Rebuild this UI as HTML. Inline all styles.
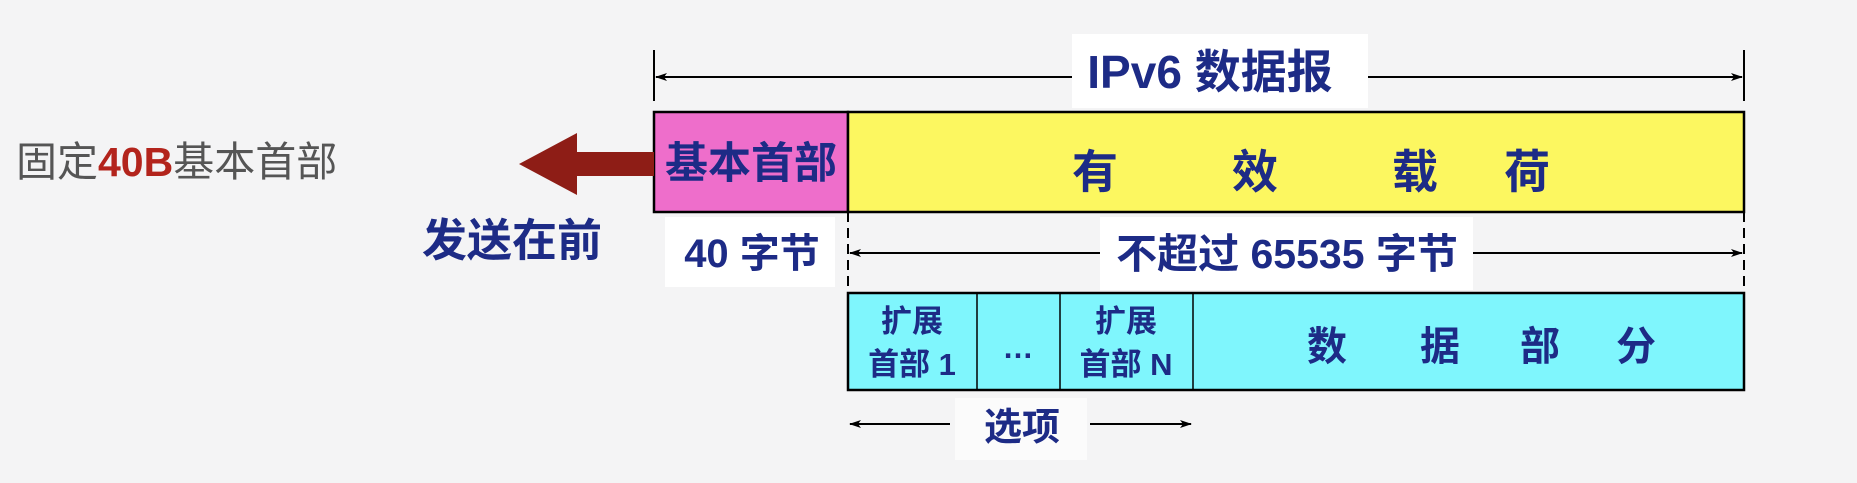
<!DOCTYPE html>
<html><head><meta charset="utf-8"><style>
html,body{margin:0;padding:0;background:#f4f4f5;}
svg{display:block}
text{font-family:"Liberation Sans","Noto Sans CJK SC",sans-serif;}
.b{fill:#1d2b86;font-weight:bold;}
</style></head><body>
<svg width="1857" height="483" viewBox="0 0 1857 483" xmlns="http://www.w3.org/2000/svg">
<defs>
<marker id="ah" markerWidth="12" markerHeight="8" refX="11" refY="4" orient="auto" markerUnits="userSpaceOnUse">
<path d="M0,0 L12,4 L0,8 L3,4 z" fill="#000"/></marker>
</defs>
<rect width="1857" height="483" fill="#f4f4f5"/>
<!-- top dimension -->
<line x1="654" y1="50" x2="654" y2="101" stroke="#000" stroke-width="2"/>
<line x1="1744" y1="50" x2="1744" y2="101" stroke="#000" stroke-width="2"/>
<line x1="1077" y1="77" x2="656" y2="77" stroke="#000" stroke-width="2" marker-end="url(#ah)"/>
<line x1="1367" y1="77" x2="1742" y2="77" stroke="#000" stroke-width="2" marker-end="url(#ah)"/>
<rect x="1072" y="34" width="296" height="74" fill="#fff"/>
<text x="1210" y="88" class="b" font-size="46" text-anchor="middle">IPv6 数据报</text>
<!-- boxes -->
<rect x="654" y="112" width="194" height="100" fill="#ee6ecb" stroke="#000" stroke-width="2.5"/>
<rect x="848" y="112" width="896" height="100" fill="#fcf760" stroke="#000" stroke-width="2.5"/>
<text x="751" y="178" class="b" font-size="43" text-anchor="middle">基本首部</text>
<g class="b" font-size="46" text-anchor="middle">
<text x="1095" y="188">有</text><text x="1255" y="188">效</text><text x="1415" y="188">载</text><text x="1527" y="188">荷</text>
</g>
<!-- arrow -->
<path d="M654,152 L577,152 L577,133 L519,164 L577,195 L577,176 L654,176 z" fill="#8e1d16"/>
<text x="16" y="176" font-size="41" fill="#555">固定<tspan fill="#b3241c" font-weight="bold">40B</tspan>基本首部</text>
<text x="422" y="256" class="b" font-size="45">发送在前</text>
<!-- second dimension -->
<rect x="665" y="217" width="170" height="70" fill="#fff"/>
<text x="752" y="267" class="b" font-size="40" text-anchor="middle">40 字节</text>
<line x1="848" y1="212" x2="848" y2="294" stroke="#000" stroke-width="2" stroke-dasharray="10,6"/>
<line x1="1744" y1="212" x2="1744" y2="294" stroke="#000" stroke-width="2" stroke-dasharray="10,6"/>
<line x1="1100" y1="253" x2="850" y2="253" stroke="#000" stroke-width="2" marker-end="url(#ah)"/>
<line x1="1473" y1="253" x2="1742" y2="253" stroke="#000" stroke-width="2" marker-end="url(#ah)"/>
<rect x="1100" y="217" width="373" height="73" fill="#fff"/>
<text x="1287" y="268" class="b" font-size="41" text-anchor="middle">不超过 65535 字节</text>
<!-- cyan row -->
<rect x="848" y="293" width="896" height="97" fill="#7ff6fd" stroke="#000" stroke-width="2.5"/>
<line x1="977" y1="293" x2="977" y2="390" stroke="#000" stroke-width="1.5"/>
<line x1="1060" y1="293" x2="1060" y2="390" stroke="#000" stroke-width="1.5"/>
<line x1="1193" y1="293" x2="1193" y2="390" stroke="#000" stroke-width="1.5"/>
<g class="b" font-size="31" text-anchor="middle">
<text x="912" y="332">扩展</text><text x="912" y="375">首部 1</text>
<text x="1018" y="358">…</text>
<text x="1126" y="332">扩展</text><text x="1126" y="375">首部 N</text>
</g>
<g class="b" font-size="40" text-anchor="middle">
<text x="1327" y="360">数</text><text x="1440" y="360">据</text><text x="1540" y="360">部</text><text x="1636" y="360">分</text>
</g>
<!-- options -->
<line x1="950" y1="424" x2="850" y2="424" stroke="#000" stroke-width="2" marker-end="url(#ah)"/>
<line x1="1090" y1="424" x2="1191" y2="424" stroke="#000" stroke-width="2" marker-end="url(#ah)"/>
<rect x="955" y="398" width="132" height="62" fill="#fff" opacity="0.6"/>
<text x="1022" y="440" class="b" font-size="38" text-anchor="middle">选项</text>
</svg>
</body></html>
